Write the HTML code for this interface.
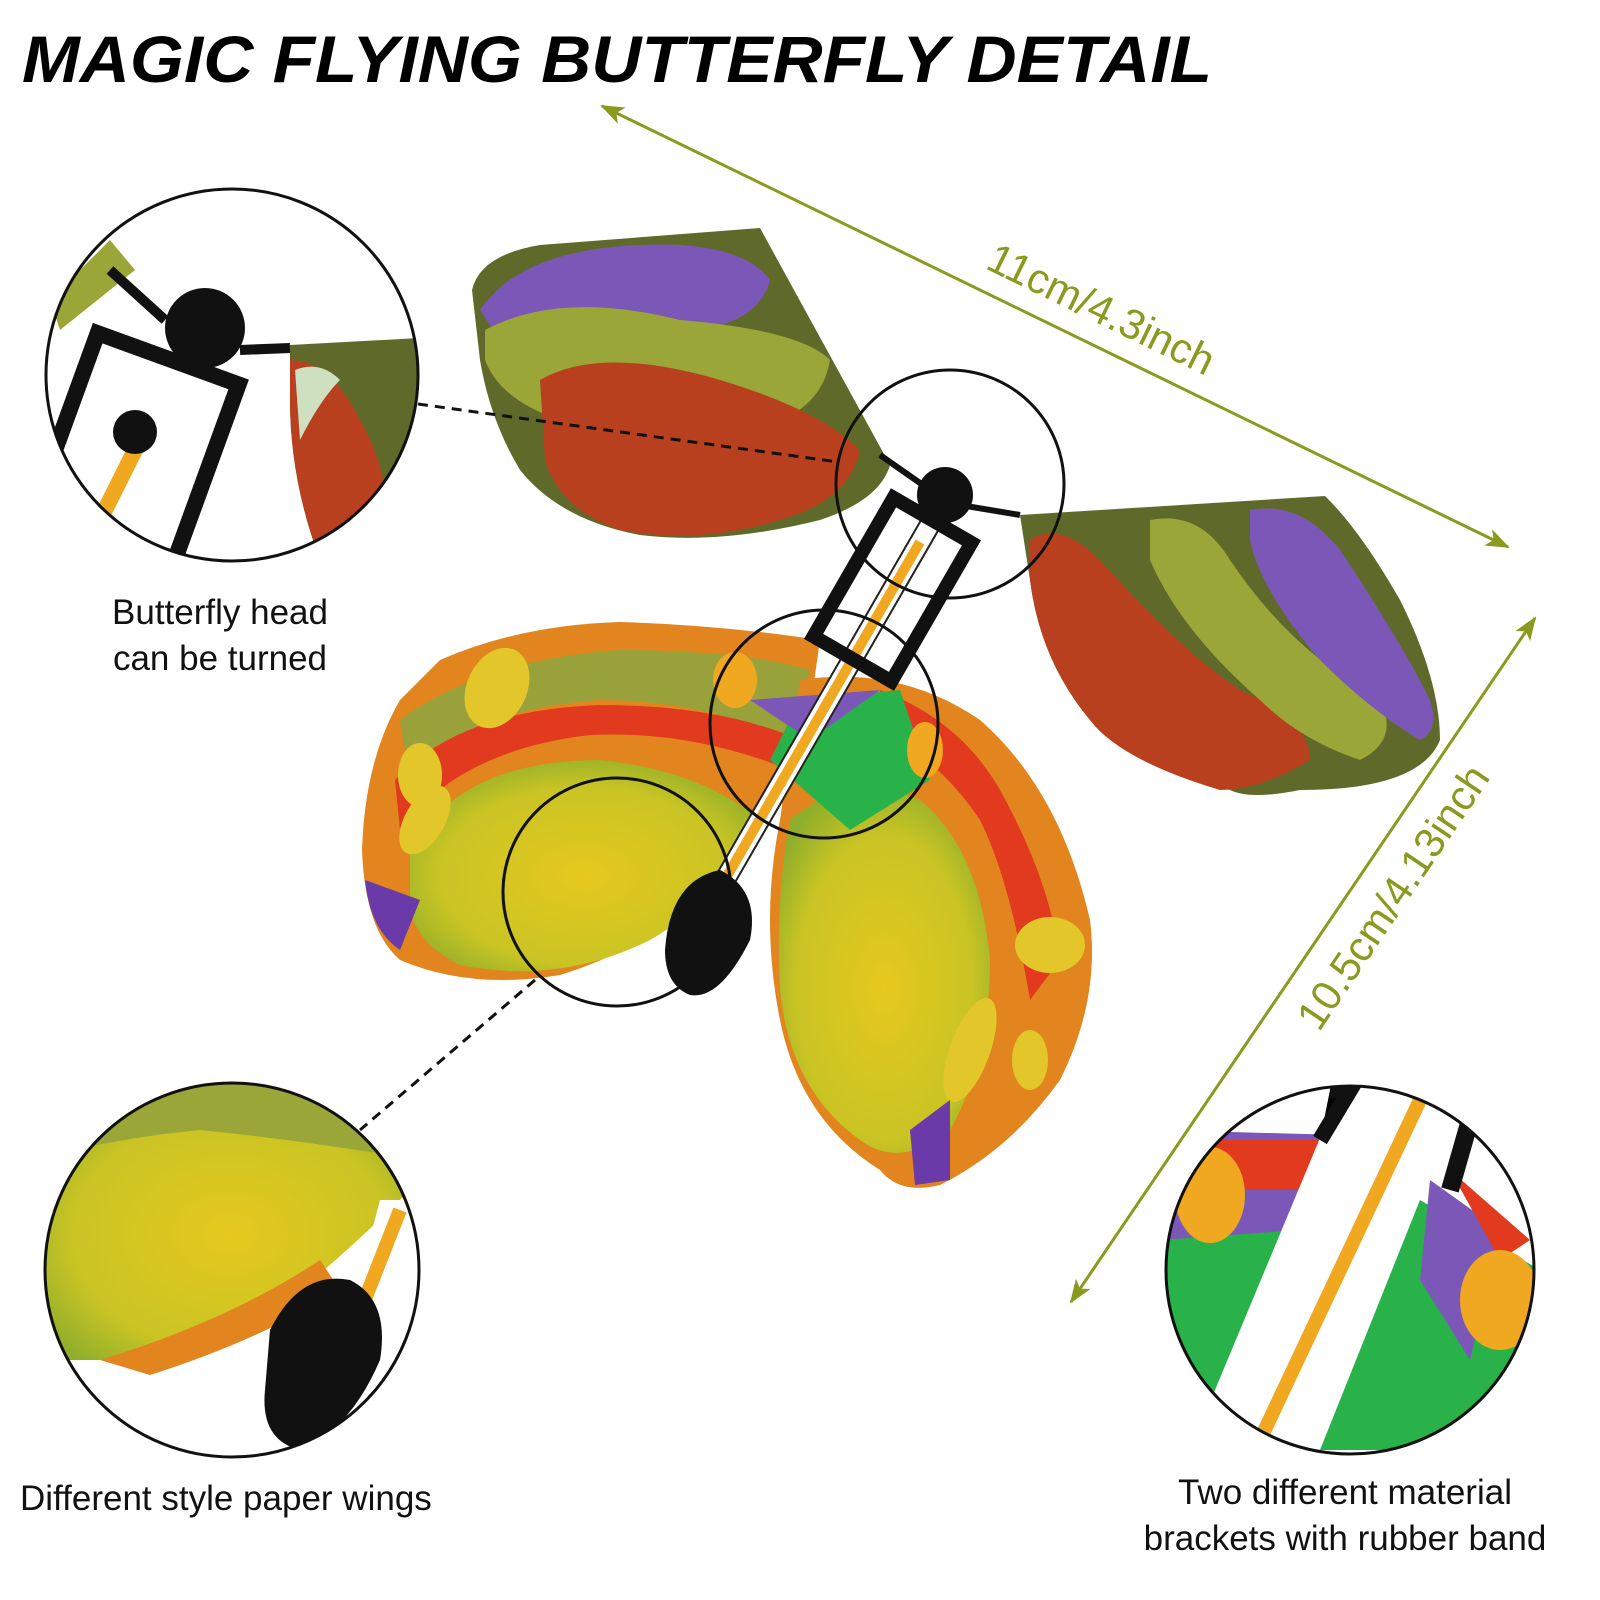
<!DOCTYPE html>
<html><head><meta charset="utf-8"><style>
html,body{margin:0;padding:0;background:#fff;}
svg{display:block}
</style></head><body>
<svg width="1600" height="1600" viewBox="0 0 1600 1600" xmlns="http://www.w3.org/2000/svg">
<defs>
<radialGradient id="yg" cx="0.5" cy="0.55" r="0.6"><stop offset="0" stop-color="#e6c81e"/><stop offset="0.7" stop-color="#c9c424"/><stop offset="1" stop-color="#8fae2a"/></radialGradient>
<marker id="ah" markerWidth="24" markerHeight="18" refX="22" refY="9" orient="auto-start-reverse" markerUnits="userSpaceOnUse"><path d="M0,0 L24,9 L0,18 L6,9z" fill="#8a9a1e"/></marker>
<clipPath id="c1"><circle cx="232" cy="375" r="185"/></clipPath>
<clipPath id="c2"><circle cx="232" cy="1270" r="186"/></clipPath>
<clipPath id="c3"><circle cx="1350" cy="1270" r="183"/></clipPath>
</defs>
<text x="22" y="82" font-family="Liberation Sans,sans-serif" font-weight="bold" font-style="italic" font-size="66" fill="#000" textLength="1190" lengthAdjust="spacingAndGlyphs">MAGIC FLYING BUTTERFLY DETAIL</text>

<line x1="602" y1="106" x2="1508" y2="547" stroke="#8a9a1e" stroke-width="3" marker-end="url(#ah)" marker-start="url(#ah)"/>
<line x1="1535" y1="618" x2="1071" y2="1302" stroke="#8a9a1e" stroke-width="3" marker-end="url(#ah)" marker-start="url(#ah)"/>
<text transform="translate(1095,322) rotate(26)" text-anchor="middle" font-family="Liberation Sans,sans-serif" font-size="42" fill="#8a9a1e">11cm/4.3inch</text>
<text transform="translate(1405,905) rotate(-56)" text-anchor="middle" font-family="Liberation Sans,sans-serif" font-size="42" fill="#8a9a1e">10.5cm/4.13inch</text>

<path d="M472,290 Q480,255 540,245 L760,228 L890,465 Q880,500 820,520 Q720,545 640,535 Q560,520 520,470 Q490,420 480,360 Z" fill="#5f6a2a"/>
<path d="M480,310 Q520,250 640,245 Q740,240 770,280 Q760,320 700,330 L600,330 Q540,325 500,340Z" fill="#7b58b8"/>
<path d="M485,330 Q560,290 680,320 Q800,330 830,360 Q820,420 740,430 L560,420 Q500,400 485,360Z" fill="#9aa638"/>
<path d="M540,380 Q600,345 720,380 Q820,410 860,450 Q850,500 780,520 Q700,545 620,530 Q560,510 545,460Z" fill="#b8401e"/>
<path d="M1020,515 L1325,496 Q1360,530 1400,600 Q1440,680 1440,740 Q1420,790 1300,790 Q1250,800 1230,790 Q1120,760 1090,720 Q1040,660 1030,580Z" fill="#5f6a2a"/>
<path d="M1030,540 Q1060,520 1100,560 Q1180,650 1240,690 Q1310,720 1310,760 Q1260,790 1220,790 Q1120,760 1090,720 Q1040,660 1030,580Z" fill="#b8401e"/>
<path d="M1150,520 Q1200,510 1230,560 Q1290,650 1380,700 Q1400,740 1360,760 Q1300,740 1260,700 Q1180,630 1150,560Z" fill="#9aa638"/>
<path d="M1250,510 Q1300,500 1340,550 Q1400,640 1430,700 Q1440,730 1420,740 Q1370,710 1320,660 Q1260,590 1250,540Z" fill="#7b58b8"/>
<path d="M440,660 Q520,625 620,622 Q720,625 820,640 L800,780 Q740,860 700,900 Q640,950 560,975 Q470,990 400,960 Q365,930 362,850 Q365,760 400,700Z" fill="#e2851e"/>
<path d="M400,720 Q480,660 620,650 Q740,650 810,670 L790,740 Q700,700 600,700 Q460,710 410,780Z" fill="#98a13a"/>
<path d="M395,780 Q460,710 600,705 Q720,705 800,740 L790,770 Q690,730 590,735 Q460,750 400,830Z" fill="#e23a1e"/>
<path d="M410,850 Q460,760 600,760 Q700,770 760,820 Q720,900 650,940 Q560,985 460,965 Q410,940 410,900Z" fill="url(#yg)"/>
<path d="M365,880 Q370,930 400,950 L420,900 Z" fill="#6a3aa8"/>
<ellipse cx="497" cy="688" rx="30" ry="42" fill="#e3c62a" transform="rotate(25 497 688)"/>
<ellipse cx="420" cy="775" rx="22" ry="32" fill="#e3c62a"/>
<ellipse cx="425" cy="820" rx="20" ry="38" fill="#e3c62a" transform="rotate(30 425 820)"/>
<path d="M800,680 Q900,665 980,720 Q1060,790 1090,920 Q1100,1000 1060,1080 Q1010,1150 940,1185 Q900,1195 880,1170 Q800,1120 780,1020 Q760,920 780,820Z" fill="#e2851e"/>
<path d="M880,690 Q960,720 1000,790 Q1050,880 1060,960 L1030,1000 Q1010,880 980,820 Q940,760 880,730Z" fill="#e23a1e"/>
<path d="M790,820 Q850,770 920,800 Q980,850 990,960 Q990,1060 950,1130 Q900,1170 860,1140 Q790,1090 780,990 Q775,900 790,820Z" fill="url(#yg)"/>
<path d="M800,700 L900,690 L930,780 L850,830 L770,760Z" fill="#2ab24a"/>
<path d="M750,700 L880,690 L810,740Z" fill="#7b58b8"/>
<ellipse cx="1050" cy="945" rx="35" ry="28" fill="#e3c62a"/>
<ellipse cx="970" cy="1050" rx="20" ry="55" fill="#e3c62a" transform="rotate(20 970 1050)"/>
<ellipse cx="1030" cy="1060" rx="18" ry="30" fill="#e3c62a"/>
<path d="M910,1130 L950,1100 L950,1180 L915,1185Z" fill="#6a3aa8"/>
<g transform="translate(950,490) rotate(30)">
<rect x="-10" y="20" width="20" height="450" fill="#fff" stroke="#222" stroke-width="2"/>
<rect x="-5" y="60" width="10" height="400" fill="#f0a820"/>
<rect x="-45" y="35" width="90" height="160" fill="none" stroke="#111" stroke-width="14"/>
</g>
<circle cx="945" cy="495" r="28" fill="#111"/>
<path d="M880,455 L930,490 M960,505 L1020,515" stroke="#111" stroke-width="6"/>
<path d="M665,950 Q670,880 720,870 Q760,890 750,940 Q720,1000 690,995 Q665,985 665,950Z" fill="#111"/>
<ellipse cx="735" cy="680" rx="22" ry="28" fill="#f0a820"/>
<ellipse cx="925" cy="750" rx="18" ry="28" fill="#f0a820"/>

<g fill="none" stroke="#111" stroke-width="3">
<circle cx="950" cy="484" r="114"/>
<circle cx="824" cy="724" r="114"/>
<circle cx="617" cy="892" r="114"/>
</g>
<line x1="418" y1="404" x2="838" y2="462" stroke="#111" stroke-width="3" stroke-dasharray="10,7"/>
<line x1="535" y1="980" x2="360" y2="1130" stroke="#111" stroke-width="3" stroke-dasharray="10,7"/>

<g clip-path="url(#c1)">
<rect x="40" y="180" width="400" height="400" fill="#fff"/>
<path d="M290,345 L420,338 L420,560 L320,560 Q290,480 290,400Z" fill="#5f6a2a"/>
<path d="M290,360 Q330,360 360,420 Q400,490 380,560 L320,560 Q290,480 290,400Z" fill="#b8401e"/>
<path d="M295,370 Q320,360 340,380 Q320,400 300,440Z" fill="#cfe0c0"/>
<path d="M50,300 L110,240 L135,270 L60,330Z" fill="#9aa638"/>
<circle cx="205" cy="328" r="40" fill="#111"/>
<path d="M110,270 L165,320 M240,350 L290,348" stroke="#111" stroke-width="10"/>
<g transform="translate(175,340) rotate(20)"><rect x="-75" y="20" width="150" height="200" fill="none" stroke="#111" stroke-width="16"/></g>
<path d="M140,440 L95,530" stroke="#f0a820" stroke-width="16"/>
<circle cx="135" cy="432" r="22" fill="#111"/>
</g>
<circle cx="232" cy="375" r="186" fill="none" stroke="#111" stroke-width="3"/>

<g clip-path="url(#c2)">
<rect x="40" y="1080" width="400" height="400" fill="#fff"/>
<path d="M40,1080 L420,1080 L420,1180 Q350,1250 300,1290 Q200,1340 100,1360 L40,1360Z" fill="url(#yg)"/>
<path d="M40,1080 L420,1080 L420,1160 Q300,1140 200,1130 Q100,1140 40,1160Z" fill="#9aa638"/>
<path d="M100,1360 Q230,1320 320,1260 L340,1290 Q260,1340 150,1375Z" fill="#e2851e"/>
<path d="M380,1200 L420,1200 L350,1400 L330,1390Z" fill="#fff"/>
<path d="M400,1210 L345,1350" stroke="#f0a820" stroke-width="14"/>
<path d="M270,1330 Q300,1270 350,1280 Q390,1300 380,1360 Q350,1430 300,1450 Q260,1440 265,1390Z" fill="#111"/>
</g>
<circle cx="232" cy="1270" r="187" fill="none" stroke="#111" stroke-width="3"/>

<g clip-path="url(#c3)">
<rect x="1160" y="1080" width="380" height="380" fill="#fff"/>
<path d="M1160,1130 L1330,1140 L1220,1450 L1160,1450Z" fill="#2ab24a"/>
<path d="M1160,1130 L1340,1135 L1300,1230 L1160,1240Z" fill="#7b58b8"/>
<path d="M1200,1140 L1340,1140 L1320,1190 L1210,1190Z" fill="#e23a1e"/>
<path d="M1420,1200 L1540,1270 L1540,1450 L1320,1450Z" fill="#2ab24a"/>
<path d="M1430,1180 L1500,1230 L1470,1360 L1420,1280Z" fill="#7b58b8"/>
<path d="M1450,1170 L1530,1240 L1500,1260Z" fill="#e23a1e"/>
<path d="M1340,1090 L1460,1090 L1290,1450 L1190,1450Z" fill="#fff"/>
<path d="M1420,1100 L1260,1440" stroke="#f0a820" stroke-width="14"/>
<path d="M1330,1090 L1350,1090 L1320,1140" stroke="#111" stroke-width="16"/>
<path d="M1470,1120 L1450,1190" stroke="#111" stroke-width="18"/>
<ellipse cx="1210" cy="1195" rx="35" ry="48" fill="#f0a820"/>
<ellipse cx="1500" cy="1300" rx="40" ry="50" fill="#f0a820"/>
</g>
<circle cx="1350" cy="1270" r="184" fill="none" stroke="#111" stroke-width="3"/>

<g font-family="Liberation Sans,sans-serif" font-size="35" fill="#111">
<text x="220" y="624" text-anchor="middle">Butterfly head</text>
<text x="220" y="670" text-anchor="middle">can be turned</text>
<text x="20" y="1510">Different style paper wings</text>
<text x="1345" y="1504" text-anchor="middle">Two different material</text>
<text x="1345" y="1550" text-anchor="middle">brackets with rubber band</text>
</g>
</svg>
</body></html>
